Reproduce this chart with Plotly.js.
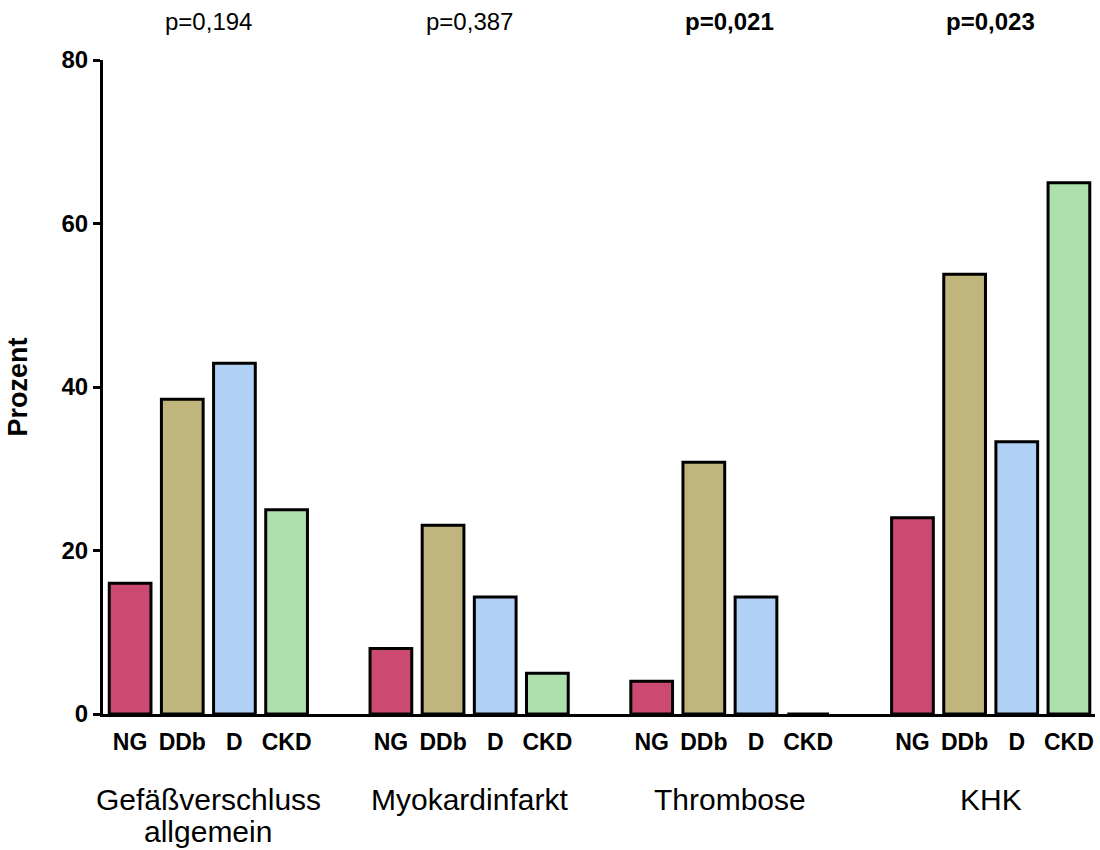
<!DOCTYPE html>
<html>
<head>
<meta charset="utf-8">
<script src="https://cdn.plot.ly/plotly-3.0.1.min.js"></script>
<style>html,body{margin:0;padding:0;background:#fff;}#chart{width:1100px;height:850px;}</style>
</head>
<body>
<div id="chart"></div>
<script>
// ---- data ----
const groups = ['Gefäßverschluss\nallgemein', 'Myokardinfarkt', 'Thrombose', 'KHK'];
const series = ['NG', 'DDb', 'D', 'CKD'];
const valuesNG  = [16.0, 8.0, 4.0, 24.0];
const valuesDDb = [38.5, 23.1, 30.8, 53.8];
const valuesD   = [42.9, 14.3, 14.3, 33.3];
const valuesCKD = [25.0, 5.0, 0.0, 65.0];
const pValues = [0.194, 0.387, 0.021, 0.023];
const yTicks = [0, 20, 40, 60, 80];

// ---- presentation ----
const colors = ['#CC4A72', '#C0B57C', '#B0D0F5', '#AEE0AE'];
const seriesValues = [valuesNG, valuesDDb, valuesD, valuesCKD];
const slotsPerGroup = series.length + 1;
const FONT = 'Liberation Sans, Arial, sans-serif';
const PLOT_H = 654;

const traces = series.map((name, s) => ({
  type: 'bar',
  name: name,
  x: groups.map((g, gi) => gi * slotsPerGroup + s),
  y: seriesValues[s],
  width: 0.8,
  marker: {color: colors[s], line: {color: '#000', width: 3}},
  hoverinfo: 'y+name'
}));

const tickvals = [], ticktext = [];
groups.forEach((g, gi) => series.forEach((name, s) => {
  tickvals.push(gi * slotsPerGroup + s);
  ticktext.push(name);
}));

const annotations = [];
groups.forEach((g, gi) => {
  const center = gi * slotsPerGroup + (series.length - 1) / 2;
  g.split('\n').forEach((line, li) => {
    annotations.push({
      x: center, xref: 'x', y: -(85 + li * 33) / PLOT_H, yref: 'paper',
      yanchor: 'middle', xanchor: 'center', showarrow: false,
      text: line, font: {family: FONT, size: 30, color: '#000'}
    });
  });
  const p = pValues[gi];
  annotations.push({
    x: center, xref: 'x', y: 1 + 38 / PLOT_H, yref: 'paper',
    yanchor: 'middle', xanchor: 'center', showarrow: false,
    text: 'p=' + p.toFixed(3).replace('.', ','),
    font: {family: FONT, size: 24, color: '#000', weight: p < 0.05 ? 700 : 400}
  });
});

const layout = {
  width: 1100, height: 850,
  margin: {l: 103, r: 5, t: 60, b: 136},
  paper_bgcolor: '#fff', plot_bgcolor: '#fff',
  showlegend: false,
  barmode: 'group',
  font: {family: FONT, color: '#000'},
  xaxis: {
    range: [-0.52, 18.5],
    tickvals: tickvals, ticktext: ticktext,
    ticks: '', showgrid: false, zeroline: false,
    showline: true, linecolor: '#000', linewidth: 3,
    tickfont: {family: FONT, size: 23, weight: 700, color: '#000'},
    ticklabelstandoff: 5,
    fixedrange: true
  },
  yaxis: {
    range: [0, 80],
    tickvals: yTicks,
    ticks: 'outside', ticklen: 7, tickwidth: 3, tickcolor: '#000',
    showgrid: false, zeroline: false,
    showline: true, linecolor: '#000', linewidth: 3,
    tickfont: {family: FONT, size: 24, weight: 700, color: '#000'},
    title: {text: 'Prozent', font: {family: FONT, size: 27, weight: 700, color: '#000'}, standoff: 27},
    automargin: false,
    fixedrange: true
  },
  annotations: annotations
};

Plotly.newPlot('chart', traces, layout, {displayModeBar: false, staticPlot: true});
</script>
</body>
</html>
